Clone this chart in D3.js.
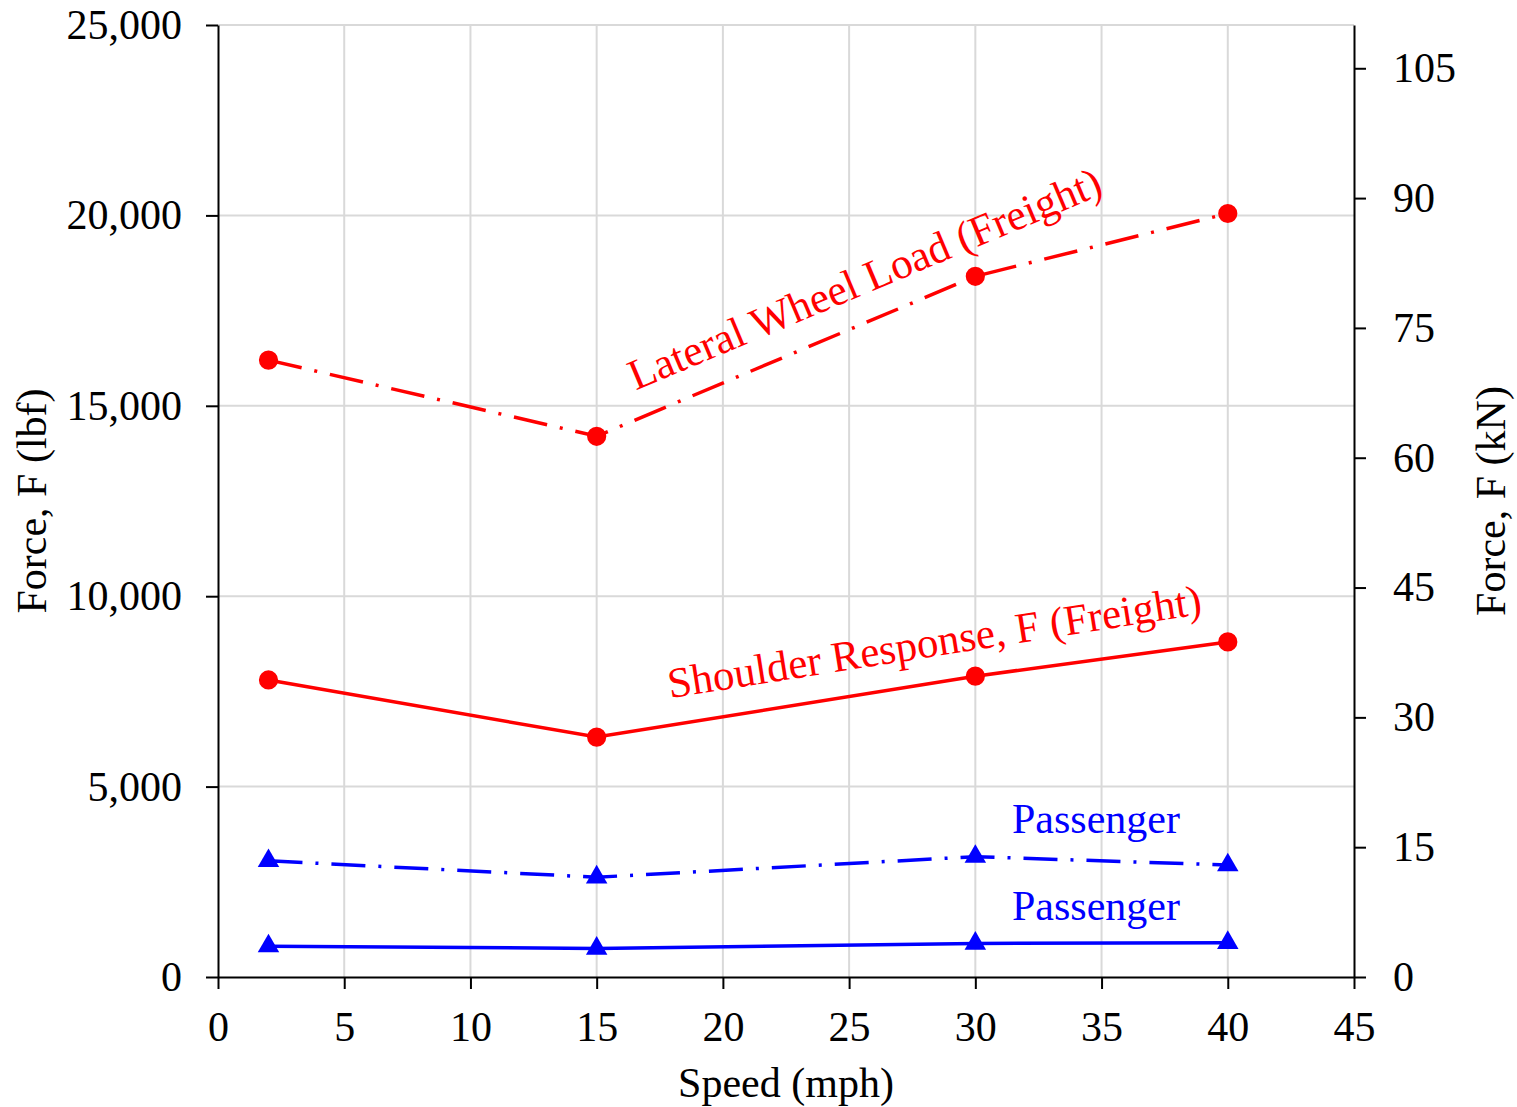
<!DOCTYPE html>
<html>
<head>
<meta charset="utf-8">
<script src="https://cdn.jsdelivr.net/npm/d3@7"></script>
<style>
  body { margin: 0; background: #fff; }
  svg text { font-family: "Liberation Serif", "Times New Roman", serif; }
</style>
</head>
<body>
<svg id="chart"></svg>
<script>
// speeds (mph) and forces (lbf)
const speeds = [2, 15, 30, 40];
const lateralFreight = [16200, 14200, 18400, 20050];
const shoulderFreight = [7800, 6300, 7900, 8800];
const lateralPassenger = [3050, 2620, 3160, 2940];
const shoulderPassenger = [810, 750, 880, 900];

const xTicks = [0, 5, 10, 15, 20, 25, 30, 35, 40, 45];
const yTicks = [0, 5000, 10000, 15000, 20000, 25000];
const kNTicks = [0, 15, 30, 45, 60, 75, 90, 105];

const width = 1517, height = 1107;
const margin = {top: 25, right: 163, bottom: 130, left: 218};
const innerwidth = width - margin.left - margin.right;
const innerheight = height - margin.top - margin.bottom;

const svg = d3.select('#chart')
    .attr("width", width)
    .attr("height", height);
const g = svg.append("g")
    .attr("transform", "translate(" + margin.left + "," + margin.top + ")");

let x = d3.scaleLinear().domain([0, 45]).range([0, innerwidth]);
let y = d3.scaleLinear().domain([0, 25000]).range([innerheight, 0]);
let yKN = d3.scaleLinear().domain([0, 110]).range([innerheight, 0]);

// gridlines
g.append("g").selectAll("line")
    .data(xTicks.filter(d => d > 0 && d < 45))
    .enter().append("line")
    .attr("x1", d => x(d)).attr("x2", d => x(d))
    .attr("y1", 0).attr("y2", innerheight)
    .attr("stroke", "#d9d9d9").attr("stroke-width", 2);
g.append("g").selectAll("line")
    .data(yTicks.filter(d => d > 0))
    .enter().append("line")
    .attr("x1", 0).attr("x2", innerwidth)
    .attr("y1", d => y(d)).attr("y2", d => y(d))
    .attr("stroke", "#d9d9d9").attr("stroke-width", 2);

// axes
function styleAxis(sel) {
    sel.selectAll("path, line").attr("stroke", "#000").attr("stroke-width", 2);
    sel.selectAll("text").attr("fill", "#000").style("font-size", "42px")
        .style("font-family", '"Liberation Serif", serif');
}
g.append("g")
    .attr("transform", "translate(0," + innerheight + ")")
    .call(d3.axisBottom(x).tickValues(xTicks).tickSize(12).tickSizeOuter(0).tickPadding(22))
    .call(styleAxis);
g.append("g")
    .call(d3.axisLeft(y).tickValues(yTicks).tickFormat(d3.format(",")).tickSize(12).tickSizeOuter(0).tickPadding(24))
    .call(styleAxis);
g.append("g")
    .attr("transform", "translate(" + innerwidth + ",0)")
    .call(d3.axisRight(yKN).tickValues(kNTicks).tickSize(12).tickSizeOuter(0).tickPadding(27))
    .call(styleAxis);

// axis titles
svg.append("text")
    .attr("x", margin.left + innerwidth / 2).attr("y", 1097)
    .attr("text-anchor", "middle").style("font-size", "42px")
    .text("Speed (mph)");
svg.append("text")
    .attr("transform", "translate(46," + (margin.top + innerheight / 2) + ") rotate(-90)")
    .attr("text-anchor", "middle").style("font-size", "42px")
    .text("Force, F (lbf)");
svg.append("text")
    .attr("transform", "translate(1505," + (margin.top + innerheight / 2) + ") rotate(-90)")
    .attr("text-anchor", "middle").style("font-size", "42px")
    .text("Force, F (kN)");

// series
const series = [
    {values: lateralFreight, color: "#ff0000", dash: "34,13,3,13", marker: "circle"},
    {values: shoulderFreight, color: "#ff0000", dash: null, marker: "circle"},
    {values: lateralPassenger, color: "#0000ff", dash: "34,13,3,13", marker: "triangle"},
    {values: shoulderPassenger, color: "#0000ff", dash: null, marker: "triangle"}
];

const line = d3.line().x(d => x(d[0])).y(d => y(d[1]));

series.forEach(s => {
    const pts = speeds.map((v, i) => [v, s.values[i]]);
    g.append("path")
        .datum(pts)
        .attr("d", line)
        .attr("fill", "none")
        .attr("stroke", s.color)
        .attr("stroke-width", 3.5)
        .attr("stroke-dasharray", s.dash);
    const sym = s.marker === "circle" ? d3.symbolCircle : d3.symbolTriangle;
    const size = s.marker === "circle" ? 290 : 200;
    g.selectAll(null)
        .data(pts)
        .enter().append("path")
        .attr("d", d3.symbol().type(sym).size(size))
        .attr("transform", d => "translate(" + x(d[0]) + "," + y(d[1]) + ")")
        .attr("fill", s.color);
});

// in-plot labels (anchored in data units)
const labels = [
    {text: "Lateral Wheel Load (Freight)", sx: 16.55, fy: 15400, angle: -22.8, size: 43.2, color: "#ff0000"},
    {text: "Shoulder Response, F (Freight)", sx: 17.9, fy: 7320, angle: -9, size: 43, color: "#ff0000"},
    {text: "Passenger", sx: 31.45, fy: 3780, angle: 0, size: 42, color: "#0000ff"},
    {text: "Passenger", sx: 31.45, fy: 1500, angle: 0, size: 42, color: "#0000ff"}
];
g.selectAll(null)
    .data(labels)
    .enter().append("text")
    .attr("transform", d => "translate(" + x(d.sx) + "," + y(d.fy) + ") rotate(" + d.angle + ")")
    .attr("fill", d => d.color)
    .style("font-size", d => d.size + "px")
    .text(d => d.text);
</script>
</body>
</html>
